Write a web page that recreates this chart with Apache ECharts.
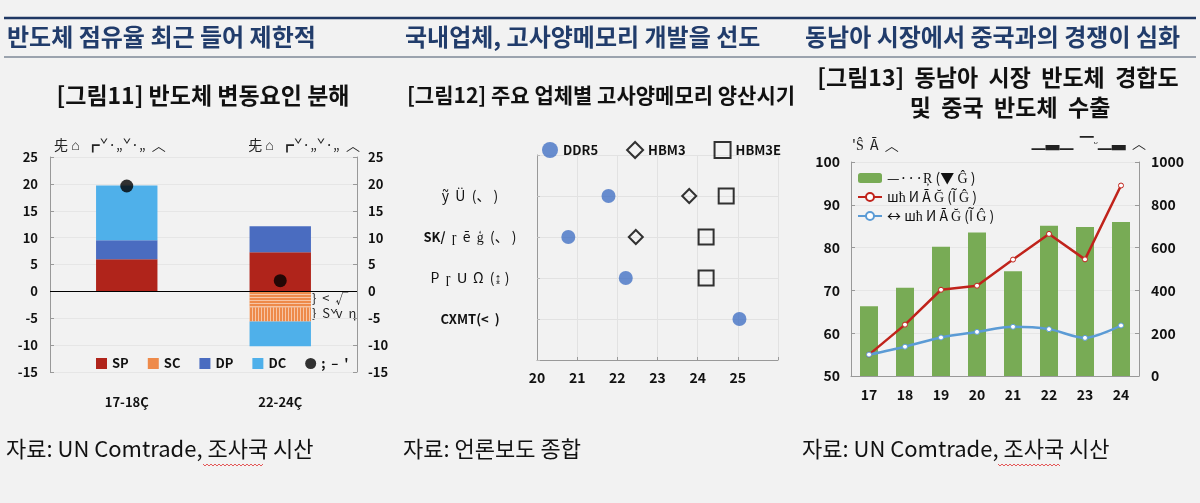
<!DOCTYPE html>
<html>
<head>
<meta charset="utf-8">
<script src="https://cdn.jsdelivr.net/npm/echarts@6/dist/echarts.min.js"></script>
<style>
  html, body { margin: 0; padding: 0; background: #f2f2f2; }
  #main { width: 1200px; height: 503px; }
</style>
</head>
<body>
<div id="main"></div>
<script>
// 패널 1: 반도체 변동요인 분해
var causeCats = ['17-18Ç', '22-24Ç'];
var spVals = [6.0, 7.3];
var scVals = [0, -3.0];      // 가로 무늬
var scVals2 = [0, -2.6];     // 세로 무늬
var dpVals = [3.5, 4.8];
var dcVals = [10.2, -4.6];
var netVals = [19.6, 2.0];

// 패널 2: 업체별 양산시기
var makers = ['ỹ  Ü  (、 )', 'SK/  ɼ  ē  ģ  (、 )', 'P  ɼ  Ս  Ω  (↨ )', 'CXMT(<  )'];
var ddr5 = [21.78, 20.78, 22.21, 25.04];
var hbm3 = [23.79, 22.46, null, null];
var hbm3e = [24.71, 24.21, 24.21, null];

// 패널 3: 동남아 경합도 및 중국 수출
var years = ['17', '18', '19', '20', '21', '22', '23', '24'];
var overlapIdx = [66.3, 70.6, 80.2, 83.5, 74.5, 85.1, 84.8, 86.0];
var exportRed = [100, 240, 403, 422, 544, 664, 545, 890];
var exportBlue = [100, 137, 180, 206, 230, 219, 178, 236];

var font = 'Noto Sans CJK KR';
var navy = '#203864';

function toRows(arr) {
  var out = [];
  arr.forEach(function (v, i) { if (v != null) out.push([v, 4 - i]); });
  return out;
}

function squiggle(x0, x1, y) {
  var pts = [], up = true;
  for (var x = x0; x <= x1; x += 2) { pts.push([x, up ? y : y + 2]); up = !up; }
  return pts;
}

var chart = echarts.init(document.getElementById('main'));

var boldLbl = { fontFamily: font, fontWeight: 'bold', fontSize: 13, color: '#111' };

var option = {
  backgroundColor: '#f2f2f2',
  textStyle: { fontFamily: font },
  animation: false,
  grid: [
    { left: 50, top: 157, width: 307, height: 215 },
    { left: 537, top: 155, width: 241, height: 205 },
    { left: 851, top: 162, width: 288, height: 214 }
  ],
  legend: [
    {
      left: 91, top: 352, itemWidth: 11, itemHeight: 11, itemGap: 19,
      textStyle: { fontFamily: font, fontWeight: 'bold', fontSize: 13, color: '#111' },
      data: [
        { name: 'SP', icon: 'rect' },
        { name: 'SC', icon: 'rect', itemStyle: { color: '#ee8a4a', decal: 'none' } },
        { name: 'DP', icon: 'rect' },
        { name: 'DC', icon: 'rect' },
        { name: ";  –  '", icon: 'circle' }
      ]
    },
    {
      left: 537, top: 136, itemWidth: 16, itemHeight: 16, itemGap: 28,
      textStyle: { fontFamily: font, fontWeight: 'bold', fontSize: 13, color: '#111' },
      data: [
        { name: 'DDR5', icon: 'circle' },
        { name: 'HBM3', icon: 'diamond', itemStyle: { color: 'rgba(0,0,0,0)', borderColor: '#000', borderWidth: 2 } },
        { name: 'HBM3E', icon: 'rect', itemStyle: { color: 'rgba(0,0,0,0)', borderColor: '#000', borderWidth: 2 } }
      ]
    },
    {
      left: 852, top: 166, orient: 'vertical', itemWidth: 24, itemHeight: 10, itemGap: 5,
      textStyle: { fontFamily: font, fontSize: 14, color: '#111' },
      data: ['—···Ŗ (▼ Ĝ )', 'шћ И Ā Ğ (Ĩ Ĝ )', '↔ шћ И Ā Ğ (Ĩ Ĝ )']
    }
  ],
  xAxis: [
    {
      gridIndex: 0, type: 'category', data: causeCats,
      axisLine: { show: false }, axisTick: { show: false },
      axisLabel: Object.assign({}, boldLbl, { margin: 24 })
    },
    {
      gridIndex: 1, type: 'value', min: 20, max: 26, interval: 1,
      axisLine: { lineStyle: { color: '#999' } },
      axisTick: { inside: true, length: 3, lineStyle: { color: '#999' } },
      splitLine: { lineStyle: { color: '#e2e2e2' } },
      axisLabel: Object.assign({}, boldLbl, { fontSize: 14, margin: 11, formatter: function (v) { return v === 26 ? '' : v; } })
    },
    {
      gridIndex: 2, type: 'category', data: years,
      axisLine: { lineStyle: { color: '#999' } }, axisTick: { show: false },
      axisLabel: Object.assign({}, boldLbl, { fontSize: 14, margin: 12 })
    }
  ],
  yAxis: [
    {
      gridIndex: 0, type: 'value', min: -15, max: 25, interval: 5,
      axisLine: { show: true, lineStyle: { color: '#999' } },
      axisTick: { show: true, inside: true, length: 4, lineStyle: { color: '#999' } },
      splitLine: { lineStyle: { color: '#e6e6e6' } },
      axisLabel: Object.assign({}, boldLbl, { margin: 12 })
    },
    {
      gridIndex: 0, type: 'value', position: 'right', min: -15, max: 25, interval: 5,
      axisLine: { show: true, lineStyle: { color: '#999' } },
      axisTick: { show: true, inside: true, length: 4, lineStyle: { color: '#999' } },
      splitLine: { show: false },
      axisLabel: Object.assign({}, boldLbl, { margin: 11 })
    },
    {
      gridIndex: 1, type: 'value', min: 0, max: 5, interval: 1,
      axisLine: { show: true, lineStyle: { color: '#999' } },
      axisTick: { show: true, inside: true, length: 3, lineStyle: { color: '#bbb' } },
      splitLine: { lineStyle: { color: '#e2e2e2' } },
      axisLabel: {
        margin: 67, align: 'center', fontFamily: font, fontSize: 14, color: '#111',
        formatter: function (v) {
          var name = makers[4 - v];
          if (!name || v < 1) return '';
          if (name.indexOf('CXMT') === 0) return '{b|' + name + '}';
          if (name.indexOf('SK/') === 0) return '{b|SK/}' + name.slice(3);
          return name;
        },
        rich: { b: { fontFamily: font, fontWeight: 'bold', fontSize: 13, color: '#111' } }
      }
    },
    {
      gridIndex: 2, type: 'value', min: 50, max: 100, interval: 10,
      axisLine: { show: true, lineStyle: { color: '#999' } },
      axisTick: { show: true, inside: true, length: 4, lineStyle: { color: '#999' } },
      splitLine: { lineStyle: { color: '#e6e6e6' } },
      axisLabel: Object.assign({}, boldLbl, { fontSize: 14, margin: 11 })
    },
    {
      gridIndex: 2, type: 'value', position: 'right', min: 0, max: 1000, interval: 200,
      axisLine: { show: true, lineStyle: { color: '#999' } },
      axisTick: { show: true, inside: true, length: 4, lineStyle: { color: '#999' } },
      splitLine: { show: false },
      axisLabel: Object.assign({}, boldLbl, { fontSize: 14, margin: 12, formatter: function (v) { return String(v); } })
    }
  ],
  series: [
    {
      name: 'SP', type: 'bar', stack: 'c', xAxisIndex: 0, yAxisIndex: 0, data: spVals,
      barWidth: '40%', itemStyle: { color: '#b0241b' },
      markLine: {
        silent: true, symbol: 'none', label: { show: false },
        lineStyle: { color: '#000', width: 1, type: 'solid' },
        data: [{ yAxis: 0 }]
      }
    },
    {
      name: 'SC', type: 'bar', stack: 'c', xAxisIndex: 0, yAxisIndex: 0, data: scVals,
      itemStyle: {
        color: '#ee8a4a',
        decal: { symbol: 'rect', symbolSize: 1, dashArrayX: [1, 0], dashArrayY: [1, 1.5], color: 'rgba(255,255,255,0.5)' }
      }
    },
    {
      name: 'SC2', type: 'bar', stack: 'c', xAxisIndex: 0, yAxisIndex: 0, data: scVals2,
      itemStyle: {
        color: '#ee8a4a',
        decal: { symbol: 'rect', symbolSize: 1, dashArrayX: [1, 1.5], dashArrayY: [1, 0], color: 'rgba(255,255,255,0.5)' }
      }
    },
    { name: 'DP', type: 'bar', stack: 'c', xAxisIndex: 0, yAxisIndex: 0, data: dpVals, itemStyle: { color: '#4a6cc0' } },
    { name: 'DC', type: 'bar', stack: 'c', xAxisIndex: 0, yAxisIndex: 0, data: dcVals, itemStyle: { color: '#4fb0ea' } },
    {
      name: ";  –  '", type: 'scatter', xAxisIndex: 0, yAxisIndex: 0, data: netVals,
      symbolSize: 13, itemStyle: { color: '#000' }, z: 5
    },

    {
      name: 'DDR5', type: 'scatter', xAxisIndex: 1, yAxisIndex: 2, data: toRows(ddr5),
      symbolSize: 14, itemStyle: { color: '#4472c4' }
    },
    {
      name: 'HBM3', type: 'scatter', xAxisIndex: 1, yAxisIndex: 2, data: toRows(hbm3),
      symbol: 'diamond', symbolSize: 14,
      itemStyle: { color: 'rgba(0,0,0,0)', borderColor: '#000', borderWidth: 2 }
    },
    {
      name: 'HBM3E', type: 'scatter', xAxisIndex: 1, yAxisIndex: 2, data: toRows(hbm3e),
      symbol: 'rect', symbolSize: 15,
      itemStyle: { color: 'rgba(0,0,0,0)', borderColor: '#000', borderWidth: 2 }
    },

    {
      name: '—···Ŗ (▼ Ĝ )', type: 'bar', xAxisIndex: 2, yAxisIndex: 3, data: overlapIdx,
      barWidth: '50%', itemStyle: { color: '#78ab55' }
    },
    {
      name: 'шћ И Ā Ğ (Ĩ Ĝ )', type: 'line', xAxisIndex: 2, yAxisIndex: 4, data: exportRed,
      symbol: 'circle', symbolSize: 5, lineStyle: { color: '#c0231b', width: 2.5 },
      itemStyle: { color: '#fff', borderColor: '#c0231b', borderWidth: 1 }, z: 4
    },
    {
      name: '↔ шћ И Ā Ğ (Ĩ Ĝ )', type: 'line', xAxisIndex: 2, yAxisIndex: 4, data: exportBlue,
      smooth: 0.3, symbol: 'circle', symbolSize: 5, lineStyle: { color: '#5b9bd5', width: 2.5 },
      itemStyle: { color: '#fff', borderColor: '#5b9bd5', borderWidth: 1 }, z: 4
    }
  ],
  graphic: [
    // 상단 머리 줄
    { type: 'line', shape: { x1: 4, y1: 18, x2: 1196, y2: 18 }, style: { stroke: navy, lineWidth: 2.5 } },
    { type: 'line', shape: { x1: 4, y1: 57, x2: 1196, y2: 57 }, style: { stroke: '#44546a', lineWidth: 1 } },
    { type: 'text', x: 7, y: 37, style: { text: '반도체 점유율 최근 들어 제한적', font: 'bold 24px "Noto Sans CJK KR"', fill: '#213c6b', verticalAlign: 'middle' } },
    { type: 'text', x: 405, y: 37, style: { text: '국내업체, 고사양메모리 개발을 선도', font: 'bold 24px "Noto Sans CJK KR"', fill: '#213c6b', verticalAlign: 'middle' } },
    { type: 'text', x: 805, y: 37, style: { text: '동남아 시장에서 중국과의 경쟁이 심화', font: 'bold 24px "Noto Sans CJK KR"', fill: '#213c6b', verticalAlign: 'middle' } },

    // 그림 제목
    { type: 'text', x: 203, y: 95, style: { text: '[그림11] 반도체 변동요인 분해', font: 'bold 23px "Noto Sans CJK KR"', fill: '#111', align: 'center', verticalAlign: 'middle' } },
    { type: 'text', x: 601, y: 95, style: { text: '[그림12] 주요 업체별 고사양메모리 양산시기', font: 'bold 21px "Noto Sans CJK KR"', fill: '#111', align: 'center', verticalAlign: 'middle' } },
    { type: 'text', x: 998, y: 77, style: { text: '[그림13]  동남아  시장  반도체  경합도', font: 'bold 23px "Noto Sans CJK KR"', fill: '#111', align: 'center', verticalAlign: 'middle' } },
    { type: 'text', x: 1010, y: 107, style: { text: '및  중국  반도체  수출', font: 'bold 23px "Noto Sans CJK KR"', fill: '#111', align: 'center', verticalAlign: 'middle' } },

    // 축 머리 표시
    { type: 'text', x: 54, y: 145, style: { text: '兂 ⌂  ┏ˇ·„ˇ·„  ︿', font: '14px "Noto Sans CJK KR"', fill: '#222', verticalAlign: 'middle' } },
    { type: 'text', x: 360, y: 145, style: { text: '兂 ⌂  ┏ˇ·„ˇ·„  ︿', font: '14px "Noto Sans CJK KR"', fill: '#222', align: 'right', verticalAlign: 'middle' } },
    { type: 'text', x: 852, y: 145, style: { text: "'Ŝ  Ā  ︿", font: '14px "Noto Sans CJK KR"', fill: '#222', verticalAlign: 'middle' } },
    { type: 'text', x: 1146, y: 143, style: { text: '▁▃▁  ▔ᵕ▁▃  ︿', font: '14px "Noto Sans CJK KR"', fill: '#222', align: 'right', verticalAlign: 'middle' } },

    // SC 분할 표시
    { type: 'text', x: 312, y: 298, style: { text: '}  <  √', font: '13px "Noto Sans CJK KR"', fill: '#222', verticalAlign: 'middle' } },
    { type: 'text', x: 312, y: 313, style: { text: '}  Š  v  η', font: '13px "Noto Sans CJK KR"', fill: '#222', verticalAlign: 'middle' } },

    // 자료 출처
    { type: 'text', x: 6, y: 449, style: { text: '자료: UN Comtrade, 조사국 시산', font: '22px "Noto Sans CJK KR"', fill: '#111', verticalAlign: 'middle' } },
    { type: 'text', x: 403, y: 449, style: { text: '자료: 언론보도 종합', font: '22px "Noto Sans CJK KR"', fill: '#111', verticalAlign: 'middle' } },
    { type: 'text', x: 802, y: 449, style: { text: '자료: UN Comtrade, 조사국 시산', font: '22px "Noto Sans CJK KR"', fill: '#111', verticalAlign: 'middle' } },
    { type: 'polyline', shape: { points: squiggle(203, 264, 464) }, style: { stroke: '#e03030', lineWidth: 0.8, fill: null } },
    { type: 'polyline', shape: { points: squiggle(998, 1060, 464) }, style: { stroke: '#e03030', lineWidth: 0.8, fill: null } }
  ]
};

chart.setOption(option);
</script>
</body>
</html>
